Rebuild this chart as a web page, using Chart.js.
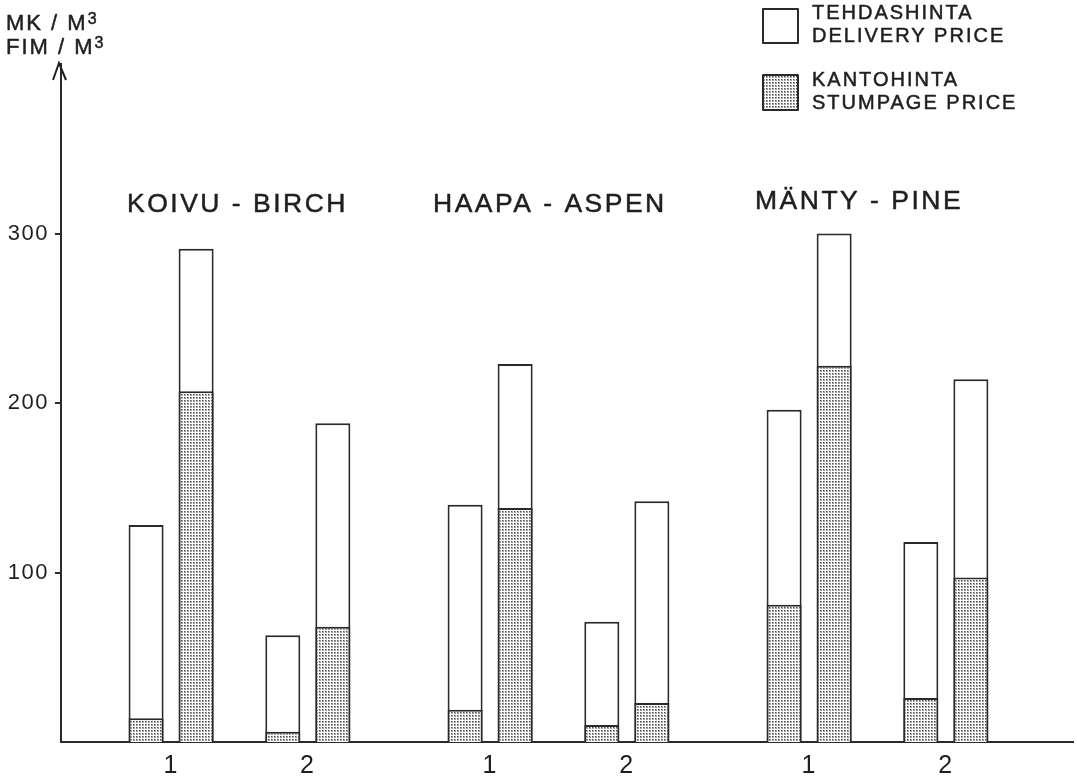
<!DOCTYPE html>
<html><head><meta charset="utf-8">
<script src="https://cdn.jsdelivr.net/npm/chart.js@4.4.1/dist/chart.umd.min.js"></script>
<style>html,body{margin:0;padding:0;background:#fff}#wrap{width:1077px;height:779px;position:relative}</style>
</head><body><div id="wrap"><canvas id="c" width="1077" height="779"></canvas></div>
<script>
// ---- data ----
const speciesGroups = ['KOIVU - BIRCH', 'HAAPA - ASPEN', 'MÄNTY - PINE'];
const subgroupLabels = ['1', '2', '1', '2', '1', '2'];
const deliveryPriceA = [128, 63, 140, 71, 196, 118];
const stumpagePriceA = [14, 6, 19, 10, 81, 26];
const deliveryPriceB = [291, 188, 223, 142, 300, 214];
const stumpagePriceB = [207, 68, 138, 23, 222, 97];
const yTickValues = [100, 200, 300];
const unitLines = ['MK / M', 'FIM / M'];
const legendDelivery = ['TEHDASHINTA', 'DELIVERY PRICE'];
const legendStumpage = ['KANTOHINTA', 'STUMPAGE PRICE'];

// ---- layout helpers ----
const slot = subgroupLabels.map((_, i) => Math.floor(i / 2) * 7 + (i % 2) * 3);
const INK = '#1f1f1f';
const FONT = "'Liberation Sans', Arial, sans-serif";

const canvas = document.getElementById('c');
const ctx0 = canvas.getContext('2d');
const pc = document.createElement('canvas'); pc.width = 3; pc.height = 3;
const p = pc.getContext('2d');
p.fillStyle = '#fff'; p.fillRect(0, 0, 3, 3);
p.fillStyle = '#a0a0a0'; p.fillRect(1, 1, 2, 2);
p.fillStyle = '#4a4a4a'; p.fillRect(1, 1, 1, 1);
const stipple = ctx0.createPattern(pc, 'repeat');

const pts = (vals) => vals.map((v, i) => ({ x: slot[i], y: v }));
const barBase = { borderColor: '#2a2a2a', borderWidth: 2, categoryPercentage: 0.732, barPercentage: 0.7 };

Chart.defaults.font.family = FONT;
Chart.defaults.color = INK;

function heavyText(c, t, x, y) {
  c.fillText(t, x, y);
  c.strokeText(t, x, y);
}

const decor = {
  id: 'decor',
  beforeDraw(chart) { chart.ctx.letterSpacing = '1.5px'; },
  afterDraw(chart) {
    const c = chart.ctx;
    c.save();
    c.fillStyle = INK; c.strokeStyle = INK; c.lineWidth = 2;
    c.textAlign = 'left'; c.textBaseline = 'alphabetic';
    // axis arrow
    const ax = chart.chartArea.left, at = chart.chartArea.top;
    c.beginPath(); c.moveTo(ax - 8, at + 16); c.lineTo(ax - 2, at - 1); c.lineTo(ax + 5, at + 16); c.stroke();
    c.lineWidth = 0.5; c.lineJoin = 'round';
    // unit label
    c.letterSpacing = '2px';
    const ub = [30, 54];
    unitLines.forEach((t, i) => {
      c.font = '22px ' + FONT;
      heavyText(c, t, 6, ub[i]);
      const w = c.measureText(t).width;
      c.font = '16px ' + FONT;
      heavyText(c, '3', 6 + w, ub[i] - 6);
    });
    // group titles
    c.letterSpacing = '2.5px';
    c.font = '26.5px ' + FONT;
    const tx = [127, 433, 755], tb = [212, 212, 209];
    speciesGroups.forEach((t, i) => heavyText(c, t, tx[i], tb[i]));
    // legend
    c.lineWidth = 2;
    c.strokeStyle = '#2a2a2a';
    c.fillStyle = '#fff'; c.fillRect(763, 9, 35, 34); c.strokeRect(763, 9, 35, 34);
    c.fillStyle = stipple; c.fillRect(763, 75, 35, 35); c.strokeRect(763, 75, 35, 35);
    c.fillStyle = INK; c.strokeStyle = INK; c.lineWidth = 0.5;
    c.letterSpacing = '2px';
    c.font = '20px ' + FONT;
    heavyText(c, legendDelivery[0], 812, 19);
    heavyText(c, legendDelivery[1], 812, 42);
    heavyText(c, legendStumpage[0], 812, 86);
    heavyText(c, legendStumpage[1], 812, 109);
    c.restore();
  }
};

new Chart(canvas, {
  type: 'bar',
  data: {
    datasets: [
      { label: 'Kantohinta A', data: pts(stumpagePriceA), stack: 'A', backgroundColor: stipple, ...barBase },
      { label: 'Kantohinta B', data: pts(stumpagePriceB), stack: 'B', backgroundColor: stipple, ...barBase },
      { label: 'Tehdashinta A', data: pts(deliveryPriceA), stack: 'A', backgroundColor: '#fff', ...barBase },
      { label: 'Tehdashinta B', data: pts(deliveryPriceB), stack: 'B', backgroundColor: '#fff', ...barBase }
    ]
  },
  options: {
    responsive: false,
    devicePixelRatio: 1,
    animation: false,
    layout: { padding: { top: 64, right: 4, left: 0, bottom: 0 } },
    plugins: { legend: { display: false }, tooltip: { enabled: false } },
    scales: {
      x: {
        type: 'linear', stacked: true, offset: false, min: -2.416, max: 19.79,
        afterBuildTicks: (s) => { s.ticks = slot.map(v => ({ value: v })); },
        afterFit: (s) => { s.height = 37; },
        ticks: {
          autoSkip: false, maxRotation: 0, padding: 9,
          font: { size: 25 }, color: INK,
          callback: (v) => subgroupLabels[slot.indexOf(v)]
        },
        grid: { display: false, drawTicks: false, offset: false },
        border: { display: true, color: '#2a2a2a', width: 2 }
      },
      y: {
        stacked: false, min: 0, max: 400,
        afterBuildTicks: (s) => { s.ticks = yTickValues.map(v => ({ value: v })); },
        afterFit: (s) => { s.width = 61; },
        ticks: { padding: 6, font: { size: 22 }, color: INK },
        grid: { display: true, drawOnChartArea: false, drawTicks: true, tickLength: 6, color: '#2a2a2a', lineWidth: 2 },
        border: { display: true, color: '#2a2a2a', width: 2 }
      }
    }
  },
  plugins: [decor]
});
</script></body></html>
